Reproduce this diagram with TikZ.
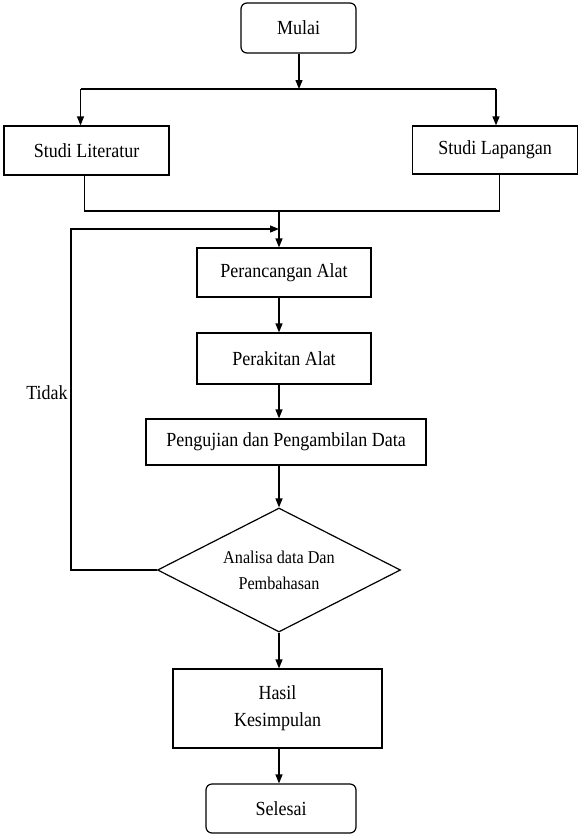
\documentclass[tikz,border=0pt]{standalone}
\usepackage{fontspec}
\setmainfont[FakeStretch=0.9]{Liberation Serif}
\usetikzlibrary{arrows.meta,shapes.geometric}
\tikzset{
  box/.style={draw, line width=1.2pt, inner sep=0pt, align=center, font=\fontsize{20}{27}\selectfont},
  term/.style={box, rounded corners=6pt},
  decision/.style={diamond, draw, line width=1.2pt, inner sep=0pt, aspect=2, align=center, font=\fontsize{18}{26}\selectfont},
  arr/.style={line width=1.2pt, -{Triangle[length=9pt,width=7pt]}},
  ln/.style={line width=1.2pt},
  lbl/.style={font=\fontsize{20}{24}\selectfont}
}
\begin{document}
\begin{tikzpicture}[x=1pt,y=-1pt]
\useasboundingbox (0,0) rectangle (579,835);
% nodes
\node[term, minimum width=115pt, minimum height=50pt] (mulai) at (298.5,28) {Mulai};
\node[box, minimum width=165pt, minimum height=49pt] (lit) at (86.5,150.5) {Studi Literatur};
\node[box, minimum width=165pt, minimum height=48pt] (lap) at (495,150) {Studi Lapangan};
\node[box, minimum width=174pt, minimum height=49pt] (peranc) at (284,272.5) {Perancangan Alat};
\node[box, minimum width=174pt, minimum height=51pt] (perak) at (284,358.5) {Perakitan Alat};
\node[box, minimum width=280pt, minimum height=46pt] (peng) at (286,442) {Pengujian dan Pengambilan Data};
\node[decision, minimum width=243pt, minimum height=124pt] (ana) at (279,570) {Analisa data Dan\\Pembahasan};
\node[box, minimum width=209pt, minimum height=79pt] (hasil) at (277.5,708.5) {Hasil\\Kesimpulan};
\node[term, minimum width=150pt, minimum height=49pt] (selesai) at (281,808.5) {Selesai};
\node[lbl] (tidak) at (47,393) {Tidak};
% coordinates
\coordinate (split) at (299,89);
\coordinate (sL) at (80.5,89);
\coordinate (sR) at (496,89);
\coordinate (mL) at (84.6,211);
\coordinate (mR) at (499.6,211);
\coordinate (mC) at (279,211);
\coordinate (fbL) at (71,229);
\coordinate (fbT) at (279,229);
% connectors
\draw[arr] (split |- mulai.south) -- (split);
\draw[ln] (sL) -- (sR);
\draw[arr] (sL) -- (sL |- lit.north);
\draw[arr] (sR) -- (sR |- lap.north);
\draw[ln] (mL |- lit.south) -- (mL) -- (mR) -- (mR |- lap.south);
\draw[arr] (mC) -- (mC |- peranc.north);
\draw[arr] (mC |- peranc.south) -- (mC |- perak.north);
\draw[arr] (mC |- perak.south) -- (mC |- peng.north);
\draw[arr] (mC |- peng.south) -- (ana.north);
\draw[arr] (ana.south) -- (ana.south |- hasil.north);
\draw[arr] (ana.south |- hasil.south) -- (ana.south |- selesai.north);
\draw[arr] (ana.west) -- (ana.west -| fbL) -- (fbL) -- (fbT);
\end{tikzpicture}
\end{document}
